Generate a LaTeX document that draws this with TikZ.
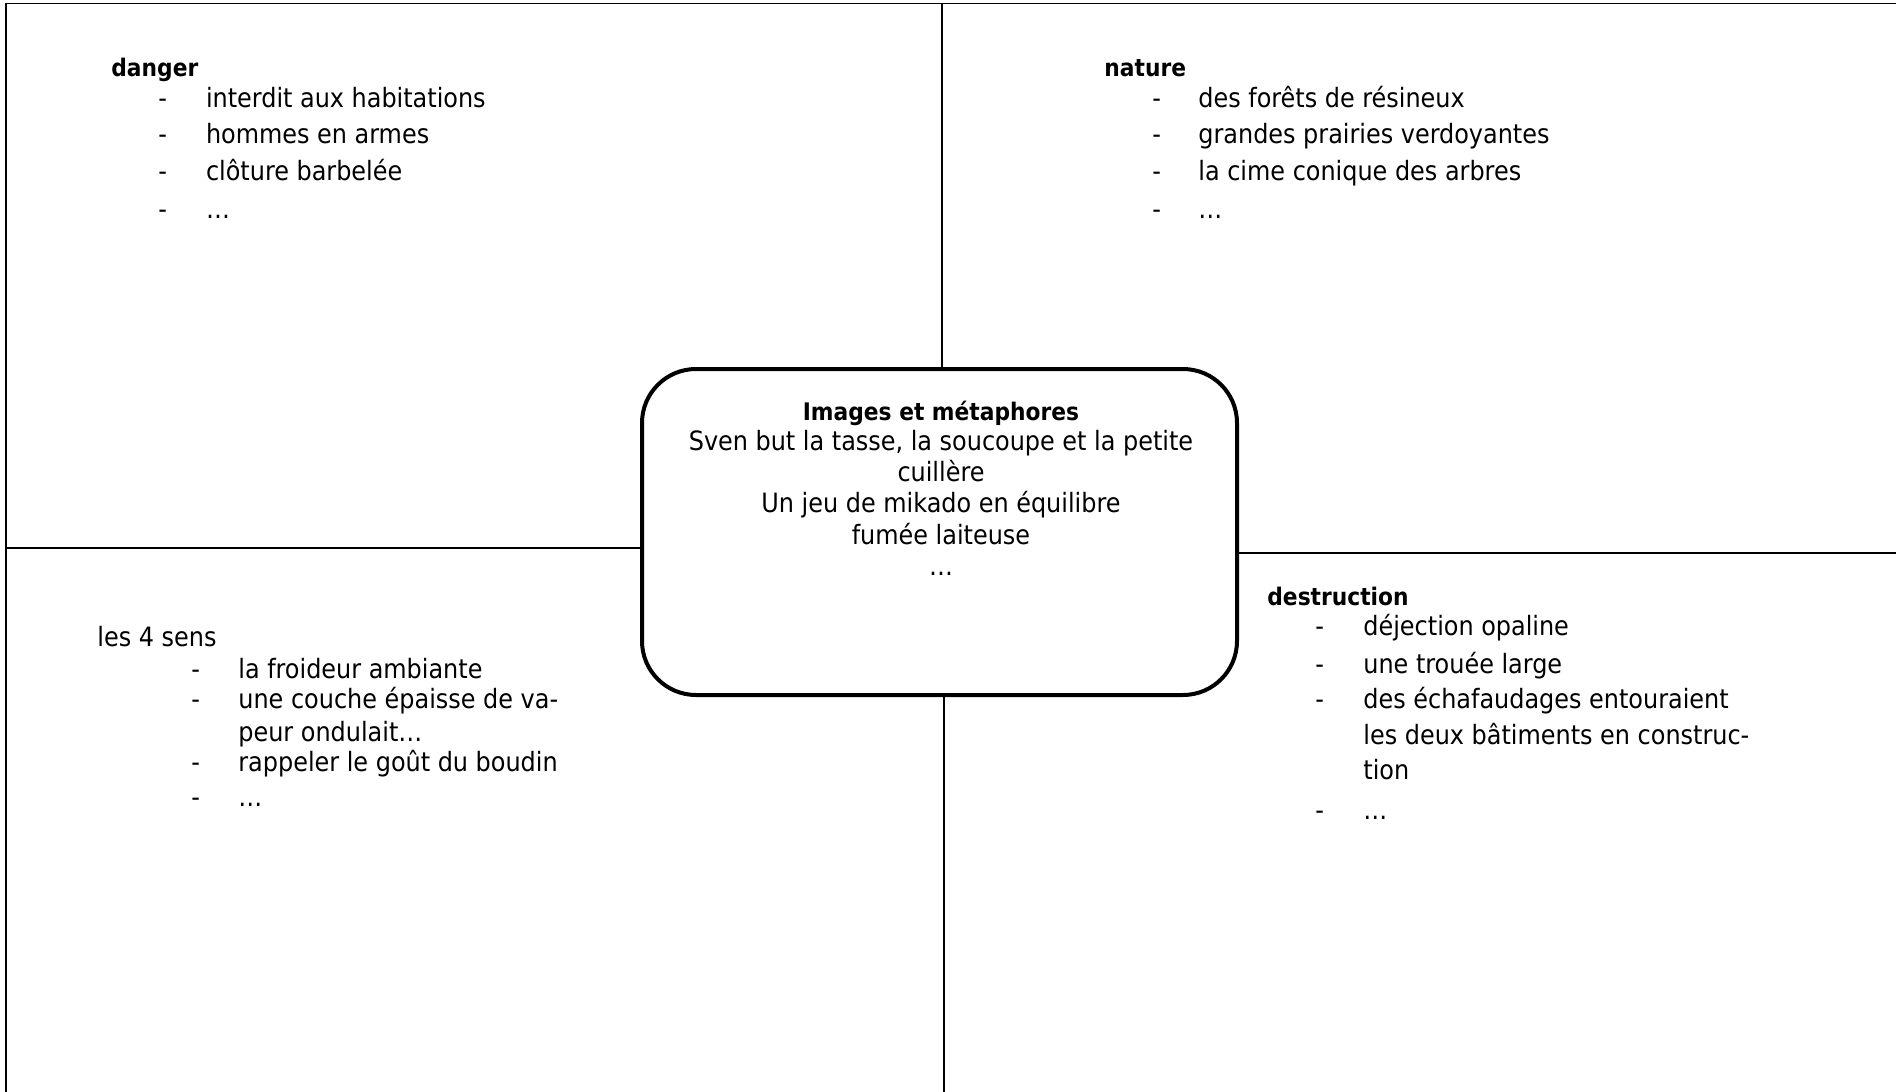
\documentclass[tikz,border=0pt]{standalone}
\usepackage{fontspec}
\setmainfont{DejaVu Sans Condensed}
\begin{document}
\begin{tikzpicture}[x=0.5pt,y=-0.5pt,
  frame/.style={line width=0.8pt,black},
  bigbox/.style={line width=2pt,black,rounded corners=27pt},
  fs/.style={font=\fontsize{13.3}{15}\selectfont},
  txt/.style={anchor=west,inner sep=0pt,text height=0.75em,text depth=0.25em,fs},
  hd/.style={txt,font=\fontsize{12.1}{15}\selectfont\bfseries},
  ctr/.style={anchor=center,inner sep=0pt,text height=0.75em,text depth=0.25em,fs},
  dashmark/.style={txt}]
\useasboundingbox (0,0) rectangle (1896,1092);
% frame lines
\draw[frame] (6,1092) -- (6,3.6) -- (1896,3.6);
\draw[frame] (942,3.6) -- (942,369);
\draw[frame] (944,695) -- (944,1092);
\draw[frame] (6,548) -- (642,548);
\draw[frame] (1237,553) -- (1896,553);
% centre box
\draw[bigbox] (642,369) rectangle (1237,695);
\begin{scope}[yshift=-2.3pt]
\node[ctr,font=\fontsize{12.1}{15}\selectfont\bfseries] (c1) at (941,411) {Images et métaphores};
\node[ctr] (c2) at (941,441) {Sven but la tasse, la soucoupe et la petite};
\node[ctr] (c3) at (941,471.6) {cuillère};
\node[ctr] (c4) at (941,503) {Un jeu de mikado en équilibre};
\node[ctr] (c5) at (941,534.5) {fumée laiteuse};
\node[ctr] (c6) at (941,566) {…};
% danger
\node[hd] (dh) at (111,66.5) {danger};
\foreach \y/\t [count=\i] in {98/interdit aux habitations,134/hommes en armes,170.5/clôture barbelée,209/…}{
  \node[dashmark] (dd\i) at (158,\y) {-};
  \node[txt] (dt\i) at (205.6,\y) {\t};
}
% nature
\node[hd] (nh) at (1104,66.5) {nature};
\foreach \y/\t [count=\i] in {98/des forêts de résineux,134/grandes prairies verdoyantes,170.5/la cime conique des arbres,209/…}{
  \node[dashmark] (nd\i) at (1152,\y) {-};
  \node[txt] (nt\i) at (1198,\y) {\t};
}
% les 4 sens
\node[txt] (sh) at (97,637) {les 4 sens};
\node[dashmark] (sd1) at (191,668.7) {-};
\node[txt] (st1) at (238,668.7) {la froideur ambiante};
\node[dashmark] (sd2) at (191,699) {-};
\node[txt] (st2) at (238,699) {une couche épaisse de va-};
\node[txt] (st2b) at (238,731.5) {peur ondulait…};
\node[dashmark] (sd3) at (191,762) {-};
\node[txt] (st3) at (238,762) {rappeler le goût du boudin};
\node[dashmark] (sd4) at (191,797) {-};
\node[txt] (st4) at (238,797) {…};
% destruction
\node[hd] (xh) at (1267,596) {destruction};
\node[dashmark] (xd1) at (1315,626) {-};
\node[txt] (xt1) at (1363,626) {déjection opaline};
\node[dashmark] (xd2) at (1315,664) {-};
\node[txt] (xt2) at (1363,664) {une trouée large};
\node[dashmark] (xd3) at (1315,699) {-};
\node[txt] (xt3) at (1363,699) {des échafaudages entouraient};
\node[txt] (xt3b) at (1363,735) {les deux bâtiments en construc-};
\node[txt] (xt3c) at (1363,770) {tion};
\node[dashmark] (xd4) at (1315,810) {-};
\node[txt] (xt4) at (1363,810) {…};
\end{scope}
\end{tikzpicture}
\end{document}
